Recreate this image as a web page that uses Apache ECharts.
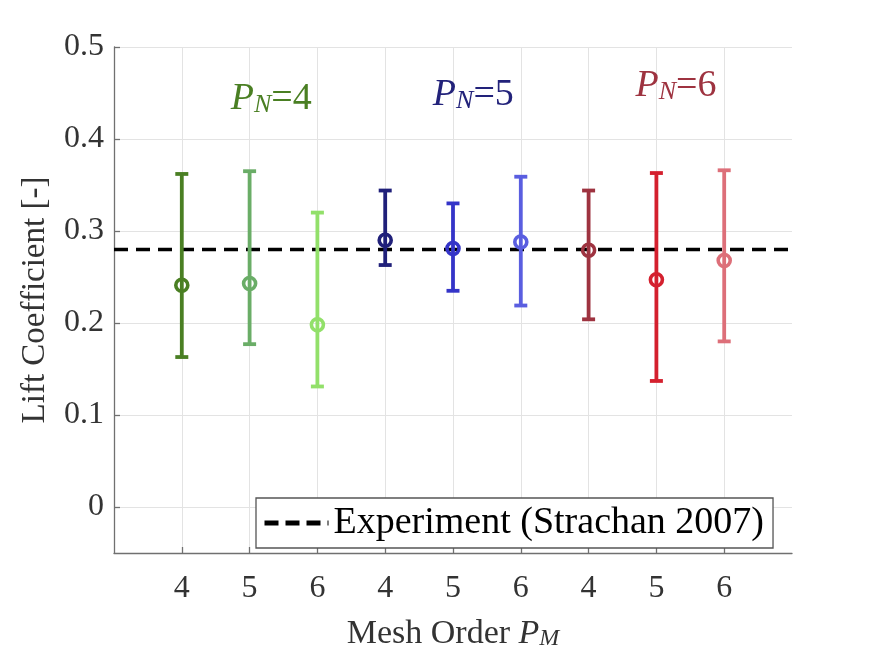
<!DOCTYPE html>
<html>
<head>
<meta charset="utf-8">
<script src="https://cdn.jsdelivr.net/npm/echarts@6/dist/echarts.min.js"></script>
<style>
	html, body { margin: 0; padding: 0; background: #fff; }
	#chart { width: 875px; height: 656px; }
</style>
</head>
<body>
<div id="chart"></div>
<script>
// ---------------- data ----------------
var meshOrders = ['4', '5', '6', '4', '5', '6', '4', '5', '6'];//P_M per bar
var liftMean = [0.241, 0.243, 0.198, 0.290, 0.281, 0.288, 0.279, 0.247, 0.268];
var liftLow = [0.163, 0.177, 0.131, 0.263, 0.235, 0.219, 0.204, 0.137, 0.180];
var liftHigh = [0.362, 0.365, 0.320, 0.344, 0.330, 0.359, 0.344, 0.363, 0.366];
var experimentValue = 0.28;
var experimentName = 'Experiment (Strachan 2007)';
var pnLabels = ['4', '5', '6'];
var pnX = [2.32, 5.3, 8.29];
var pnY = [0.447, 0.451, 0.461];
var yTicks = [0, 0.1, 0.2, 0.3, 0.4, 0.5];
var xTicks = [1, 2, 3, 4, 5, 6, 7, 8, 9];

// ---------------- styles ----------------
var barColors = ['#4a7f23', '#6aad67', '#92e06a', '#20207a', '#3434c8', '#5a5ee0', '#9e3340', '#d4202e', '#dd6f79'];
var pnColors = ['#4a7f23', '#22227a', '#9e3340'];
var FONT = 'Liberation Serif';

function renderErrorBar(params, api) {
	var x = api.value(0), lo = api.value(1), mid = api.value(2), hi = api.value(3);
	var pLo = api.coord([x, lo]);
	var pHi = api.coord([x, hi]);
	var pMid = api.coord([x, mid]);
	var col = barColors[params.dataIndex];
	var cap = 6.5;
	var s = { stroke: col, lineWidth: 3.8, fill: null };
	return {
		type: 'group',
		children: [
			{ type: 'line', shape: { x1: pLo[0], y1: pLo[1], x2: pHi[0], y2: pHi[1] }, style: s },
			{ type: 'line', shape: { x1: pHi[0] - cap, y1: pHi[1], x2: pHi[0] + cap, y2: pHi[1] }, style: s },
			{ type: 'line', shape: { x1: pLo[0] - cap, y1: pLo[1], x2: pLo[0] + cap, y2: pLo[1] }, style: s },
			{ type: 'circle', shape: { cx: pMid[0], cy: pMid[1], r: 6 }, style: { stroke: col, lineWidth: 3.6, fill: 'none' } }
		]
	};
}

var barData = [];
for (var i = 0; i < meshOrders.length; i++) {
	barData.push([xTicks[i], liftLow[i], liftMean[i], liftHigh[i]]);
}
var pnData = [];
for (var k = 0; k < pnLabels.length; k++) {
	pnData.push({
		value: [pnX[k], pnY[k]],
		label: { color: pnColors[k], formatter: '{p|P}{n|N}{e|=' + pnLabels[k] + '}' }
	});
}

var chart = echarts.init(document.getElementById('chart'));
var option = {
	backgroundColor: '#fff',
	animation: false,
	textStyle: { fontFamily: FONT },
	grid: { left: 114, right: 83, top: 47, bottom: 93 },
	legend: {
		data: [experimentName],
		left: 256,
		top: 498,
		backgroundColor: '#fff',
		borderColor: '#555',
		borderWidth: 1.3,
		borderRadius: 0,
		padding: [6, 9, 6, 6],
		itemWidth: 64,
		itemHeight: 40,
		itemStyle: { opacity: 0 },
		lineStyle: { type: [14, 7], width: 5, color: '#000' },
		textStyle: { fontFamily: FONT, fontSize: 38, color: '#000' }
	},
	xAxis: {
		type: 'value',
		min: 0,
		max: 10,
		name: '{r|Mesh Order }{i|P}{s|M}',
		nameLocation: 'middle',
		nameGap: 58,
		nameTextStyle: {
			rich: {
				r: { fontFamily: FONT, fontSize: 34, color: '#333', lineHeight: 40, verticalAlign: 'bottom' },
				i: { fontFamily: FONT, fontSize: 34, fontStyle: 'italic', color: '#333', lineHeight: 40, verticalAlign: 'bottom' },
				s: { fontFamily: FONT, fontSize: 24, fontStyle: 'italic', color: '#333', lineHeight: 22, verticalAlign: 'bottom' }
			}
		},
		axisLine: { onZero: false, lineStyle: { color: '#707070', width: 1.3 } },
		axisTick: { inside: true, length: 6, customValues: xTicks, lineStyle: { color: '#707070', width: 1.3 } },
		axisLabel: {
			fontFamily: FONT, fontSize: 32, color: '#333', margin: 20,
			customValues: xTicks,
			formatter: function (v) {
				var idx = xTicks.indexOf(Math.round(v));
				return idx >= 0 ? meshOrders[idx] : '';
			}
		},
		splitLine: { show: true, lineStyle: { color: '#e3e3e3', width: 1 } }
	},
	yAxis: {
		type: 'value',
		min: -0.05,
		max: 0.5,
		name: 'Lift Coefficient [-]',
		nameLocation: 'middle',
		nameGap: 62,
		nameTextStyle: { fontFamily: FONT, fontSize: 33, color: '#333' },
		axisLine: { show: true, lineStyle: { color: '#707070', width: 1.3 } },
		axisTick: { show: true, inside: true, length: 6, customValues: yTicks, lineStyle: { color: '#707070', width: 1.3 } },
		axisLabel: {
			fontFamily: FONT, fontSize: 32, color: '#333', margin: 10,
			customValues: yTicks,
			formatter: function (v) { return String(Math.round(v * 10) / 10); }
		},
		splitLine: { show: true, lineStyle: { color: '#e3e3e3', width: 1 } }
	},
	series: [
		{
			name: experimentName,
			type: 'line',
			symbol: 'none',
			z: 2,
			itemStyle: { color: '#000' },
			data: [[0, experimentValue], [10, experimentValue]],
			lineStyle: { color: '#000', width: 3.5, type: [14, 8] }
		},
		{
			type: 'custom',
			z: 3,
			renderItem: renderErrorBar,
			encode: { x: 0, y: [1, 2, 3] },
			data: barData
		},
		{
			type: 'scatter',
			symbolSize: 0,
			z: 4,
			silent: true,
			itemStyle: { opacity: 1 },
			label: {
				show: true,
				position: 'inside',
				opacity: 1,
				rich: {
					p: { fontFamily: FONT, fontSize: 38, fontStyle: 'italic', lineHeight: 44, verticalAlign: 'bottom' },
					n: { fontFamily: FONT, fontSize: 26, fontStyle: 'italic', lineHeight: 24, verticalAlign: 'bottom' },
					e: { fontFamily: FONT, fontSize: 38, lineHeight: 44, verticalAlign: 'bottom' }
				}
			},
			data: pnData
		}
	]
};
chart.setOption(option);
</script>
</body>
</html>
